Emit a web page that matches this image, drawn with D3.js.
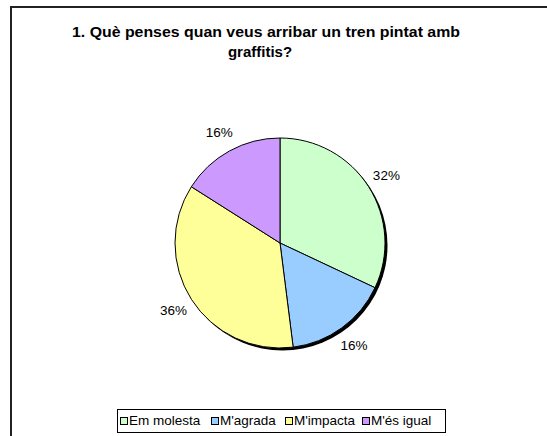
<!DOCTYPE html>
<html><head><meta charset="utf-8">
<script src="https://cdn.jsdelivr.net/npm/d3@7"></script>
<style>body{margin:0;background:#fff;} svg{display:block;}</style>
</head><body>
<svg id="c" width="547" height="436"></svg>
<script>
const categories = ["Em molesta", "M'agrada", "M'impacta", "M'és igual"];
const values = [32, 16, 36, 16];
const colors = ["#CCFFCC", "#99CCFF", "#FFFF99", "#CC99FF"];
const titleLines = ["1. Què penses quan veus arribar un tren pintat amb", "graffitis?"];

const svg = d3.select("#c");
const font = "Arial, 'Liberation Sans', sans-serif";

// chart frame (extends beyond viewport at right/bottom)
svg.append("rect").attr("x", 11).attr("y", 7).attr("width", 600).attr("height", 500)
  .attr("fill", "#fff").attr("stroke", "#222").attr("stroke-width", 2);

// title
const tl = svg.append("text").attr("text-anchor", "middle")
  .attr("font-family", font).attr("font-size", 15).attr("font-weight", "bold");
tl.append("tspan").attr("x", 266).attr("y", 37).text(titleLines[0])
  .attr("textLength", 388).attr("lengthAdjust", "spacingAndGlyphs");
tl.append("tspan").attr("x", 260).attr("y", 57).text(titleLines[1]);

const cx = 280, cy = 243, r = 105;
const pie = d3.pie().sort(null).value(d => d)(values);
const arc = d3.arc().innerRadius(0).outerRadius(r);
const g = svg.append("g").attr("transform", `translate(${cx},${cy})`);

// shadow
g.append("circle").attr("cx", 2.5).attr("cy", 2.5).attr("r", r).attr("fill", "#000");

g.selectAll("path.s").data(pie).join("path").attr("class", "s")
  .attr("d", arc).attr("fill", (d, i) => colors[i])
  .attr("stroke", "#000").attr("stroke-width", 1);

// labels
const labelArc = d3.arc().innerRadius(r + 21).outerRadius(r + 21);
g.selectAll("text.l").data(pie).join("text").attr("class", "l")
  .attr("transform", d => `translate(${labelArc.centroid(d)})`)
  .attr("text-anchor", "middle").attr("dy", "0.35em")
  .attr("font-family", font).attr("font-size", 13.5)
  .text(d => d.value + "%");

// legend
const lg = svg.append("g");
lg.append("rect").attr("x", 117.5).attr("y", 409.5).attr("width", 328).attr("height", 23)
  .attr("fill", "#fff").attr("stroke", "#000").attr("stroke-width", 1);
const xs = [120, 211, 285, 362];
categories.forEach((c, i) => {
  lg.append("rect").attr("x", xs[i] + 0.5).attr("y", 417.5).attr("width", 7).attr("height", 7)
    .attr("fill", colors[i]).attr("stroke", "#000").attr("stroke-width", 1);
  lg.append("text").attr("x", xs[i] + 9).attr("y", 425)
    .attr("font-family", font).attr("font-size", 13.5).text(c);
});
</script>
</body></html>
